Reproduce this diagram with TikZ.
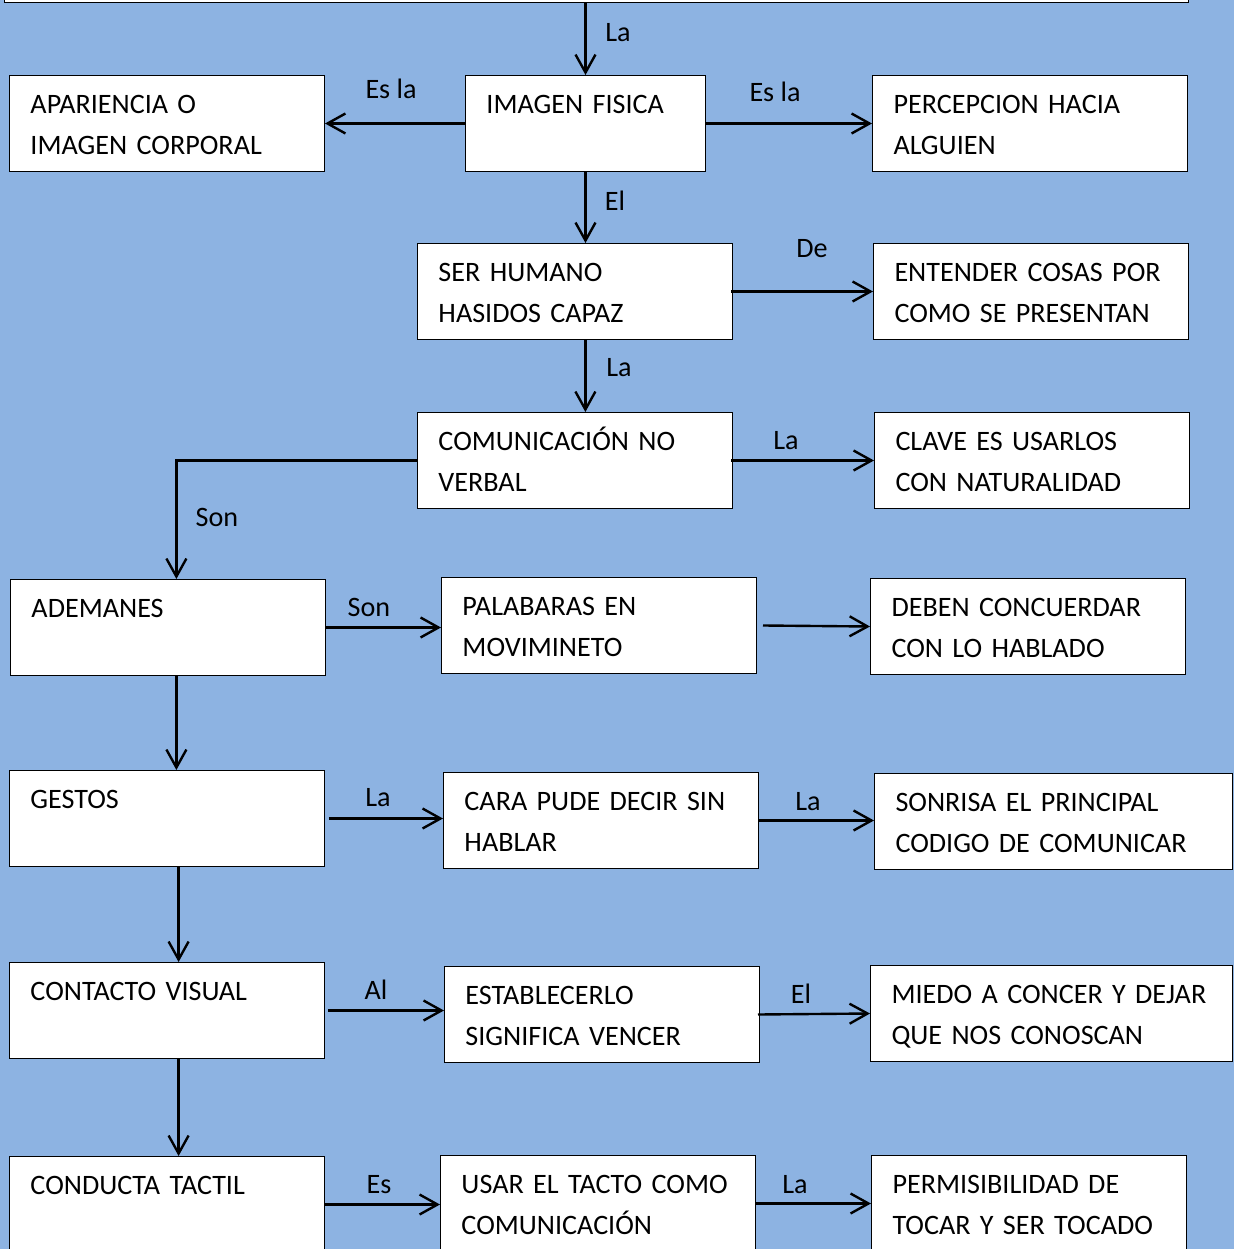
\documentclass[tikz,border=0pt]{standalone}
\usepackage{fontspec}
\setmainfont{Carlito}
\usetikzlibrary{arrows.meta}
\definecolor{fondo}{RGB}{141,179,226}
\tikzstyle{every node}=[font=\fontsize{20}{29}\selectfont]
\tikzstyle{caja}=[draw=black,fill=white,line width=0.7pt,anchor=north west,inner xsep=5.25mm,inner ysep=0pt,text height=9.5mm,text depth=14.5mm,text width=68.25mm,align=left]
\tikzstyle{angosta}=[text width=49.5mm]
\tikzstyle{rotulo}=[inner sep=0pt]
\tikzstyle{flecha}=[-{Straight Barb[length=4.5mm,width=5mm]},line width=1.7pt]

\begin{document}
\begin{tikzpicture}[x=0.25mm, y=-0.25mm]
	\useasboundingbox (0,0) rectangle (1234,1249);
	\fill[fondo] (0,0) rectangle (1234,1249);
	\node[caja, anchor=south west, text width=285.5mm] (inicio) at (4,3) {};
	\node[caja] (apariencia) at (9,75) {APARIENCIA O\\IMAGEN CORPORAL};
	\node[caja, angosta] (imagen) at (465,75) {IMAGEN FISICA};
	\node[caja] (percepcion) at (872,75) {PERCEPCION HACIA\\ALGUIEN};
	\node[caja] (humano) at (417,243) {SER HUMANO\\HASIDOS CAPAZ};
	\node[caja] (entender) at (873,243) {ENTENDER COSAS POR\\COMO SE PRESENTAN};
	\node[caja] (comunicacion) at (417,412) {COMUNICACIÓN NO\\VERBAL};
	\node[caja] (clave) at (874,412) {CLAVE ES USARLOS\\CON NATURALIDAD};
	\node[caja] (ademanes) at (10,579) {ADEMANES};
	\node[caja] (palabras) at (441,577) {PALABARAS EN\\MOVIMINETO};
	\node[caja] (deben) at (870,578) {DEBEN CONCUERDAR\\CON LO HABLADO};
	\node[caja] (gestos) at (9,770) {GESTOS};
	\node[caja] (cara) at (443,772) {CARA PUDE DECIR SIN\\HABLAR};
	\node[caja, text width=79mm] (sonrisa) at (874,773) {SONRISA EL PRINCIPAL\\CODIGO DE COMUNICAR};
	\node[caja] (contacto) at (9,962) {CONTACTO VISUAL};
	\node[caja] (establecer) at (444,966) {ESTABLECERLO\\SIGNIFICA VENCER};
	\node[caja, text width=80mm] (miedo) at (870,965) {MIEDO A CONCER Y DEJAR\\QUE NOS CONOSCAN};
	\node[caja] (conducta) at (9,1156) {CONDUCTA TACTIL};
	\node[caja] (usar) at (440,1155) {USAR EL TACTO COMO\\COMUNICACIÓN};
	\node[caja] (permisibilidad) at (871,1155) {PERMISIBILIDAD DE\\TOCAR Y SER TOCADO};
	\draw[flecha] (inicio.south -| imagen.north) -- (imagen.north);
	\draw[flecha] (imagen.west) -- (apariencia.east);
	\draw[flecha] (imagen.east) -- (percepcion.west);
	\draw[flecha] (imagen.south) -- (imagen.south |- humano.north);
	\draw[flecha] ([xshift=-0.5mm]humano.east) -- (entender.west);
	\draw[flecha] ([xshift=2.6mm]humano.south) -- ([xshift=2.6mm]comunicacion.north);
	\draw[flecha] ([xshift=-0.5mm]comunicacion.east) -- (clave.west);
	\draw[flecha] (comunicacion.west) -| ([xshift=2.1mm]ademanes.north);
	\draw[flecha] (ademanes.east) -- (ademanes.east -| palabras.west);
	\draw[flecha] ([xshift=1.5mm]palabras.east) -- (deben.west);
	\draw[flecha] ([xshift=2.1mm]ademanes.south) -- ([xshift=2.1mm]ademanes.south |- gestos.north);
	\draw[flecha] ([xshift=1mm]gestos.east) -- (gestos.east -| cara.west);
	\draw[flecha] (cara.east) -- (cara.east -| sonrisa.west);
	\draw[flecha] ([xshift=2.9mm]gestos.south) -- ([xshift=2.9mm]gestos.south |- contacto.north);
	\draw[flecha] ([xshift=0.7mm]contacto.east) -- (contacto.east -| establecer.west);
	\draw[flecha] ([xshift=-0.5mm]establecer.east) -- (miedo.west);
	\draw[flecha] ([xshift=2.9mm]contacto.south) -- ([xshift=2.9mm]contacto.south |- conducta.north);
	\draw[flecha] (conducta.east) -- (conducta.east -| usar.west);
	\draw[flecha] (usar.east) -- (usar.east -| permisibilidad.west);
	\node[rotulo] (r1) at (618,33) {La};
	\node[rotulo] (r2) at (391,89) {Es la};
	\node[rotulo] (r3) at (775,92) {Es la};
	\node[rotulo] (r4) at (615,201) {El};
	\node[rotulo] (r5) at (812,249) {De};
	\node[rotulo] (r6) at (619,368) {La};
	\node[rotulo] (r7) at (786,441) {La};
	\node[rotulo] (r8) at (217,517) {Son};
	\node[rotulo] (r9) at (369,607) {Son};
	\node[rotulo] (r10) at (378,798) {La};
	\node[rotulo] (r11) at (808,802) {La};
	\node[rotulo] (r12) at (376,990) {Al};
	\node[rotulo] (r13) at (801,994) {El};
	\node[rotulo] (r14) at (379,1185) {Es};
	\node[rotulo] (r15) at (795,1185) {La};
\end{tikzpicture}
\end{document}
